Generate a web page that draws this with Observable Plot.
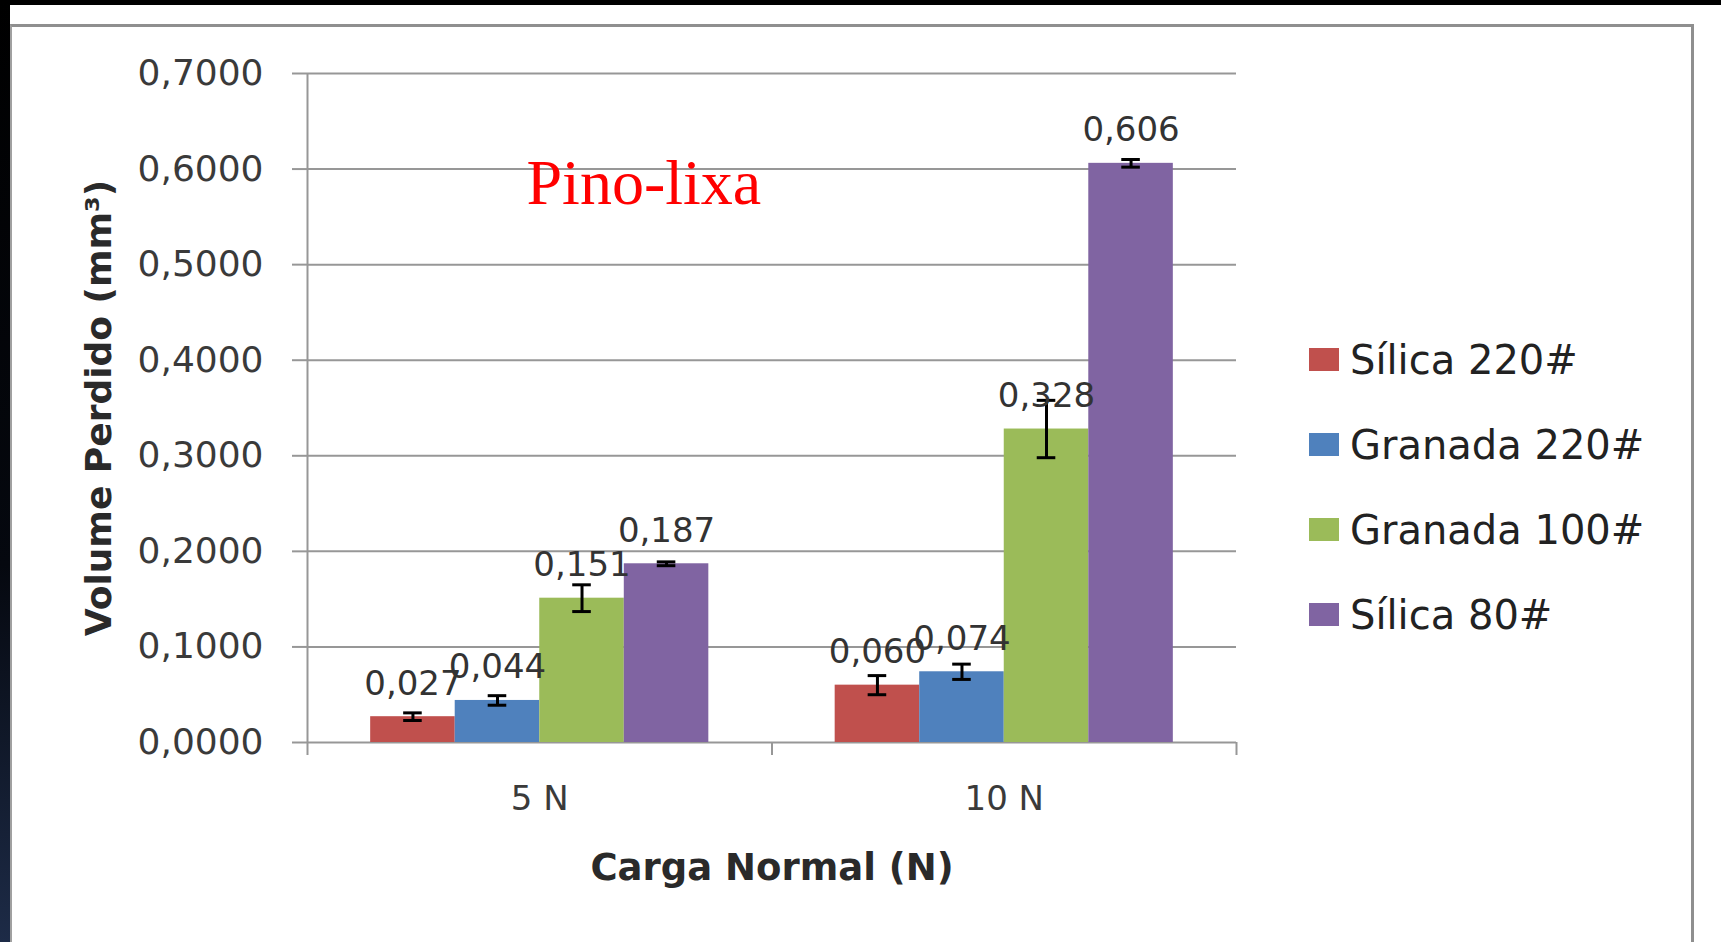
<!DOCTYPE html>
<html>
<head>
<meta charset="utf-8">
<script src="https://cdn.jsdelivr.net/npm/d3@7"></script>
<script src="https://cdn.jsdelivr.net/npm/@observablehq/plot@0.6"></script>
<style>
  html, body { margin: 0; padding: 0; background: #fff; }
  #page { position: relative; width: 1721px; height: 942px; overflow: hidden; background: #fff; }
  #topbar { position: absolute; left: 0; top: 0; width: 1721px; height: 5px; background: #000; }
  #leftbar { position: absolute; left: 0; top: 0; width: 10px; height: 942px; background: linear-gradient(#000 0%, #05080f 60%, #1d2b47 100%); }
  #frame { position: absolute; left: 10px; top: 24px; width: 1684px; height: 940px; border-top: 3px solid #8f8f8f; border-left: 2px solid #a0a0a0; border-right: 3px solid #8f8f8f; box-sizing: border-box; }
  #chart { position: absolute; left: 0; top: 0; }
  #legend { position: absolute; left: 1309px; top: 317px; font-family: "DejaVu Sans", sans-serif; font-size: 40px; color: #222; }
  .item { display: flex; align-items: center; height: 85px; }
  .sw { width: 30px; height: 23px; margin-right: 11px; }
</style>
</head>
<body>
<div id="page">
  <div id="topbar"></div>
  <div id="leftbar"></div>
  <div id="frame"></div>
  <div id="chart"></div>
  <div id="legend"></div>
</div>
<script>
// ---- data ----
const categories = ["5 N", "10 N"];
const seriesNames = ["Sílica 220#", "Granada 220#", "Granada 100#", "Sílica 80#"];
const seriesColors = ["#C0504D", "#4F81BD", "#9BBB59", "#8064A2"];
const values5N = [0.027, 0.044, 0.151, 0.187];
const values10N = [0.060, 0.074, 0.328, 0.606];
const errors5N = [0.004, 0.005, 0.014, 0.002];
const errors10N = [0.010, 0.008, 0.030, 0.004];
const yTicks = [0, 0.1, 0.2, 0.3, 0.4, 0.5, 0.6, 0.7];
const xTitle = "Carga Normal (N)";
const yTitle = "Volume Perdido (mm³)";
const annotationText = "Pino-lixa";

// ---- build table ----
const valuesByCat = [values5N, values10N];
const errorsByCat = [errors5N, errors10N];
const groupWidth = 0.728;
const barW = groupWidth / seriesNames.length;
const rows = [];
categories.forEach((c, ci) => {
  seriesNames.forEach((s, si) => {
    const x1 = ci + 0.5 - groupWidth / 2 + si * barW;
    rows.push({cat: c, series: s, value: valuesByCat[ci][si], err: errorsByCat[ci][si],
      x1, x2: x1 + barW, xc: x1 + barW / 2});
  });
});
const capHalf = 0.02;
const comma = (f) => (v) => f(v).replace(".", ",");
const fmtTick = comma(d3.format(".4f"));
const fmtLabel = comma(d3.format(".3f"));
const grid = "#979797";

const plot = Plot.plot({
  width: 1721,
  height: 942,
  marginLeft: 307,
  marginRight: 485,
  marginTop: 73,
  marginBottom: 200,
  style: {fontFamily: "DejaVu Sans, sans-serif", background: "transparent", overflow: "visible"},
  x: {domain: [0, categories.length], axis: null},
  y: {domain: [0, 0.7], axis: null},
  color: {domain: seriesNames, range: seriesColors},
  marks: [
    Plot.ruleY(yTicks, {stroke: grid, strokeWidth: 2}),
    Plot.axisY({ticks: yTicks, tickSize: 15, tickPadding: 29, tickFormat: fmtTick, fontSize: 36,
      stroke: grid, strokeWidth: 2, fill: "#3a3a3a", label: null}),
    Plot.axisX({ticks: d3.range(categories.length + 1), tickSize: 13, tickFormat: () => "",
      stroke: grid, strokeWidth: 2, label: null}),
    Plot.ruleX([0], {stroke: grid, strokeWidth: 2}),
    Plot.rectY(rows, {x1: "x1", x2: "x2", y1: 0, y2: "value", fill: "series"}),
    Plot.ruleX(rows, {x: "xc", y1: d => d.value - d.err, y2: d => d.value + d.err, stroke: "#000", strokeWidth: 3}),
    Plot.ruleY(rows, {y: d => d.value - d.err, x1: d => d.xc - capHalf, x2: d => d.xc + capHalf, stroke: "#000", strokeWidth: 3}),
    Plot.ruleY(rows, {y: d => d.value + d.err, x1: d => d.xc - capHalf, x2: d => d.xc + capHalf, stroke: "#000", strokeWidth: 3}),
    Plot.text(rows, {x: "xc", y: "value", text: d => fmtLabel(d.value), dy: -22, lineAnchor: "bottom",
      fontSize: 34, fill: "#333"}),
    Plot.text(categories, {x: (d, i) => i + 0.5, frameAnchor: "bottom", dy: 67, text: d => d,
      fontSize: 34, fill: "#3a3a3a"}),
    Plot.text([xTitle], {frameAnchor: "bottom", dy: 137, text: d => d, fontSize: 37, fontWeight: "bold", fill: "#2a2a2a"}),
    Plot.text([yTitle], {frameAnchor: "left", dx: -208, rotate: -90, textAnchor: "middle", lineAnchor: "middle",
      text: d => d, fontSize: 36, fontWeight: "bold", fill: "#2a2a2a"}),
    Plot.text([annotationText], {frameAnchor: "top-left", dx: 219, dy: 130, text: d => d, textAnchor: "start",
      lineAnchor: "bottom", fontSize: 64, fontFamily: "Liberation Serif, serif", fill: "#ff0000"})
  ]
});
document.getElementById("chart").appendChild(plot);

// legend
const legend = document.getElementById("legend");
seriesNames.forEach((s, i) => {
  const item = document.createElement("div");
  item.className = "item";
  const sw = document.createElement("div");
  sw.className = "sw";
  sw.style.background = seriesColors[i];
  const t = document.createElement("span");
  t.textContent = s;
  item.appendChild(sw);
  item.appendChild(t);
  legend.appendChild(item);
});
</script>
</body>
</html>
